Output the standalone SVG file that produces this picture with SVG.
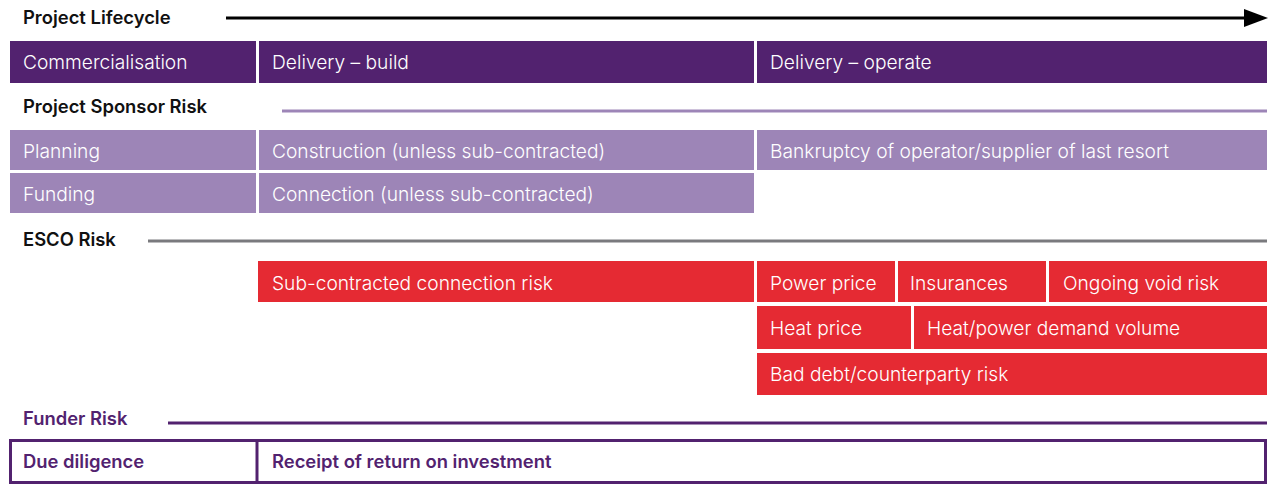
<svg xmlns="http://www.w3.org/2000/svg" width="1269" height="488" viewBox="0 0 1269 488">
<style>
.h{font-family:"Inter","Liberation Sans",sans-serif;font-weight:600;font-size:18.4px;fill:#111}
.t{font-family:"Inter","Liberation Sans",sans-serif;font-weight:300;font-size:19.2px;fill:#fff}
.f{font-family:"Inter","Liberation Sans",sans-serif;font-weight:600;font-size:18.4px;fill:#52226f}
.dp{fill:#52226f}
.lp{fill:#9d85b7}
.rd{fill:#e52a33}
</style>
<defs>
<marker id="ah" markerWidth="8" markerHeight="6" refX="0" refY="3" orient="auto" markerUnits="strokeWidth">
<path d="M0,0 L8,3 L0,6 Z" fill="#000"/>
</marker>
</defs>
<g id="connectors">
<line x1="226" y1="18" x2="1244" y2="18" stroke="#000" stroke-width="3" marker-end="url(#ah)"/>
<line x1="282" y1="111" x2="1267" y2="111" stroke="#9d85b7" stroke-width="3"/>
<line x1="148" y1="241" x2="1267" y2="241" stroke="#7a7a7e" stroke-width="3"/>
<line x1="168" y1="423" x2="1267" y2="423" stroke="#52226f" stroke-width="3"/>
</g>
<g id="hdr-lifecycle"><text class="h" x="23" y="24">Project Lifecycle</text></g>
<g id="n-commercialisation"><rect class="dp" x="10" y="41" width="246" height="42"/><text class="t" x="23" y="69">Commercialisation</text></g>
<g id="n-build"><rect class="dp" x="259" y="41" width="495" height="42"/><text class="t" x="272" y="69">Delivery – build</text></g>
<g id="n-operate"><rect class="dp" x="757" y="41" width="510" height="42"/><text class="t" x="770" y="69">Delivery – operate</text></g>
<g id="hdr-sponsor"><text class="h" x="23" y="113">Project Sponsor Risk</text></g>
<g id="n-planning"><rect class="lp" x="10" y="130" width="246" height="40"/><text class="t" x="23" y="158">Planning</text></g>
<g id="n-construction"><rect class="lp" x="259" y="130" width="495" height="40"/><text class="t" x="272" y="158">Construction (unless sub-contracted)</text></g>
<g id="n-bankruptcy"><rect class="lp" x="757" y="130" width="510" height="40"/><text class="t" x="770" y="158">Bankruptcy of operator/supplier of last resort</text></g>
<g id="n-funding"><rect class="lp" x="10" y="173" width="246" height="40"/><text class="t" x="23" y="201">Funding</text></g>
<g id="n-connection"><rect class="lp" x="259" y="173" width="495" height="40"/><text class="t" x="272" y="201">Connection (unless sub-contracted)</text></g>
<g id="hdr-esco"><text class="h" x="23" y="246">ESCO Risk</text></g>
<g id="n-subcon"><rect class="rd" x="258" y="261" width="496" height="41"/><text class="t" x="272" y="290">Sub-contracted connection risk</text></g>
<g id="n-power"><rect class="rd" x="757" y="261" width="138" height="41"/><text class="t" x="770" y="290">Power price</text></g>
<g id="n-insurances"><rect class="rd" x="898" y="261" width="148" height="41"/><text class="t" x="910" y="290">Insurances</text></g>
<g id="n-void"><rect class="rd" x="1049" y="261" width="218" height="41"/><text class="t" x="1063" y="290">Ongoing void risk</text></g>
<g id="n-heat"><rect class="rd" x="757" y="306" width="154" height="43"/><text class="t" x="770" y="335">Heat price</text></g>
<g id="n-demand"><rect class="rd" x="914" y="306" width="353" height="43"/><text class="t" x="927" y="335">Heat/power demand volume</text></g>
<g id="n-baddebt"><rect class="rd" x="757" y="353" width="510" height="42"/><text class="t" x="770" y="381">Bad debt/counterparty risk</text></g>
<g id="hdr-funder"><text class="f" x="23" y="425">Funder Risk</text></g>
<g id="n-funderrow"><rect x="10.5" y="440.5" width="1255" height="42" fill="none" stroke="#52226f" stroke-width="3"/><line x1="257" y1="440" x2="257" y2="483" stroke="#52226f" stroke-width="3"/></g>
<g id="n-duediligence"><text class="f" x="23" y="468">Due diligence</text></g>
<g id="n-receipt"><text class="f" x="272" y="468">Receipt of return on investment</text></g>
</svg>
